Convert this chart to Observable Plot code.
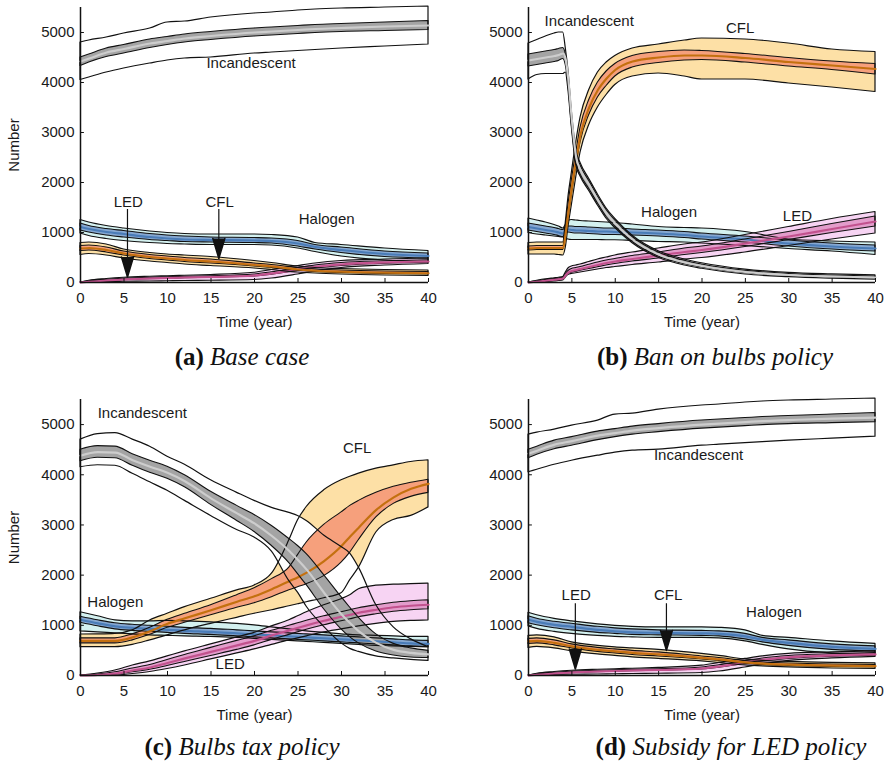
<!DOCTYPE html>
<html><head><meta charset="utf-8">
<script src="https://cdn.jsdelivr.net/npm/d3@7"></script>
<script src="https://cdn.jsdelivr.net/npm/@observablehq/plot@0.6"></script>
<style>
body{margin:0;background:#fff;}
#root{position:relative;width:889px;height:763px;overflow:hidden;background:#fff;}
.panel{position:absolute;}
.panel svg{overflow:visible;}
.cap{position:absolute;width:400px;font-family:"Liberation Serif","Times New Roman",serif;font-size:25px;line-height:25px;white-space:nowrap;color:#111;text-align:center;}
.cap b{font-weight:bold;} .cap i{font-style:italic;}
</style></head><body><div id="root"></div>
<script>
// ---------- ticks ----------
const X_TICKS = [0,5,10,15,20,25,30,35,40];
const Y_TICKS = [0,1000,2000,3000,4000,5000];

// ---------- Panel (a) Base case  (panel (d) is drawn from the same readings) ----------
const T_A = [0,1,3,5,8,10,12,15,20,22,25,27,30,35,40];
const A_inc_hi  = [4800,4840,4900,4980,5080,5200,5220,5300,5380,5400,5440,5460,5480,5500,5520];
const A_inc_ihi = [4500,4560,4680,4750,4860,4910,4960,5010,5080,5100,5130,5150,5170,5200,5230];
const A_inc_med = [4420,4480,4600,4670,4780,4830,4880,4930,5000,5020,5050,5070,5090,5120,5140];
const A_inc_ilo = [4330,4400,4510,4580,4690,4750,4800,4850,4920,4940,4970,4990,5010,5030,5050];
const A_inc_lo  = [4050,4100,4200,4280,4380,4440,4480,4500,4580,4600,4630,4650,4680,4720,4760];
const A_hal_hi  = [1250,1200,1130,1080,1020,990,970,960,960,950,900,790,750,680,630];
const A_hal_ihi = [1180,1130,1070,1030,970,940,920,900,890,880,830,750,700,620,580];
const A_hal_med = [1110,1070,1010,970,910,880,860,850,840,830,780,710,650,570,530];
const A_hal_ilo = [1040,1000,940,900,850,830,810,800,790,780,720,660,590,510,480];
const A_hal_lo  = [980,930,870,830,790,770,760,750,750,740,680,610,520,440,410];
const A_cfl_hi  = [790,800,760,660,590,560,540,510,430,390,320,290,270,250,240];
const A_cfl_ihi = [730,740,700,620,550,520,490,460,380,350,290,260,240,220,210];
const A_cfl_med = [680,690,650,580,510,480,450,420,350,320,260,235,215,195,185];
const A_cfl_ilo = [630,640,600,540,470,440,410,380,320,290,235,210,190,170,160];
const A_cfl_lo  = [550,570,540,480,420,390,360,330,280,250,200,180,160,140,130];
const A_led_hi  = [0,35,70,95,115,125,135,150,195,250,330,380,430,460,480];
const A_led_ihi = [0,25,55,75,95,105,115,125,160,205,290,340,390,425,445];
const A_led_med = [0,15,40,60,80,90,100,110,140,180,260,310,360,400,420];
const A_led_ilo = [0,8,25,45,65,75,85,95,120,155,230,280,330,375,395];
const A_led_lo  = [0,0,10,15,20,25,30,35,50,80,160,220,290,340,370];
const A_lab_text = ["Incandescent","Halogen","LED","CFL"];
const A_lab_x = [19.6,28.3,5.5,16.0];
const A_lab_y = [4390,1260,1610,1610];
const A_arr_x = [5.4,15.9];
const A_arr_from = [1470,1470];
const A_arr_to = [110,480];

// ---------- Panel (b) Ban on bulbs policy ----------
const T_B = [0,1,2,3,3.5,4,4.3,4.6,5,5.5,6,7,8,9,10,12,15,18,20,25,30,35,40];
const B_inc_hi  = [4780,4850,4920,4980,5000,5000,4680,4250,3420,2660,2390,2070,1760,1480,1270,935,625,460,385,258,192,162,142];
const B_inc_ihi = [4560,4590,4620,4650,4670,4690,4560,4150,3350,2600,2340,2030,1720,1450,1240,910,600,435,360,235,170,140,120];
const B_inc_med = [4440,4470,4500,4530,4550,4580,4450,4050,3250,2500,2250,1950,1650,1380,1180,860,560,400,330,210,150,120,100];
const B_inc_ilo = [4320,4350,4380,4410,4430,4470,4340,3950,3150,2400,2160,1870,1580,1310,1120,810,520,365,300,185,130,100,80];
const B_inc_lo  = [4060,4150,4170,4170,4170,4170,4200,3850,3100,2350,2120,1830,1540,1275,1090,785,495,340,275,160,108,78,58];
const B_hal_hi  = [1280,1240,1200,1150,1120,1080,1150,1230,1250,1240,1230,1220,1210,1200,1190,1160,1110,1090,1080,1010,860,820,800];
const B_hal_ihi = [1180,1150,1120,1090,1070,1050,1100,1120,1120,1110,1110,1100,1090,1080,1080,1060,1040,1010,980,920,840,780,740];
const B_hal_med = [1110,1080,1050,1020,1000,980,1040,1060,1050,1040,1040,1030,1020,1020,1010,1000,980,950,920,860,780,720,680];
const B_hal_ilo = [1040,1010,980,950,930,910,980,1000,990,980,980,970,960,950,950,940,920,890,860,800,720,660,620];
const B_hal_lo  = [990,960,940,920,910,900,880,860,850,850,850,850,850,845,845,830,810,800,780,730,670,620,550];
const B_cfl_hi  = [790,800,800,800,800,800,1200,1700,2200,2800,3300,3850,4200,4400,4530,4680,4760,4840,4880,4860,4780,4660,4610];
const B_cfl_ihi = [720,730,730,730,730,730,1100,1550,2050,2600,3100,3650,4000,4220,4370,4530,4610,4640,4630,4570,4490,4420,4370];
const B_cfl_med = [680,690,690,690,690,690,1000,1400,1900,2450,2950,3500,3850,4080,4250,4420,4500,4540,4540,4490,4410,4340,4270];
const B_cfl_ilo = [640,650,650,650,650,650,900,1250,1750,2300,2800,3350,3700,3930,4120,4300,4390,4440,4450,4400,4320,4250,4160];
const B_cfl_lo  = [560,560,560,560,550,540,700,1100,1550,2100,2600,3150,3500,3750,3950,4120,4180,4120,4060,4060,3980,3900,3810];
const B_led_hi  = [0,35,65,85,95,110,200,280,320,340,360,410,460,500,540,600,680,760,800,950,1110,1270,1410];
const B_led_ihi = [0,25,50,70,80,95,170,230,270,290,310,355,400,440,470,530,600,680,720,860,1010,1170,1320];
const B_led_med = [0,15,35,55,65,80,150,200,230,250,270,310,350,390,420,470,540,610,650,780,920,1070,1220];
const B_led_ilo = [0,8,25,40,50,60,130,175,195,215,235,270,305,340,370,420,480,550,590,710,850,990,1120];
const B_led_lo  = [0,0,10,20,30,40,100,150,170,185,200,230,260,290,310,350,400,460,490,600,730,860,980];
const B_lab_text = ["Incandescent","CFL","Halogen","LED"];
const B_lab_x = [7.0,24.4,16.2,31.0];
const B_lab_y = [5230,5090,1410,1320];

// ---------- Panel (c) Bulbs tax policy ----------
const T_C = [0,2,4,6,8,10,12,15,18,20,22,24,25,26,28,30,31,32,34,36,38,40];
const C_inc_hi  = [4700,4810,4830,4700,4560,4360,4200,3890,3640,3480,3340,3240,3180,3080,2790,2560,2430,2150,1400,960,720,565];
const C_inc_ihi = [4500,4570,4560,4410,4280,4160,3990,3660,3380,3200,2980,2720,2580,2420,2000,1560,1350,1150,820,630,540,490];
const C_inc_med = [4380,4450,4440,4290,4160,4040,3870,3530,3230,3030,2780,2480,2300,2110,1650,1220,1040,880,650,510,450,420];
const C_inc_ilo = [4270,4340,4330,4180,4040,3920,3750,3400,3080,2860,2580,2240,2020,1800,1320,920,760,640,480,400,360,350];
const C_inc_lo  = [4150,4190,4180,4020,3850,3680,3480,3180,2900,2750,2470,1880,1650,1370,970,640,530,470,380,340,310,290];
const C_hal_hi  = [1260,1180,1100,1080,1080,1090,1080,1060,1030,1000,960,920,900,880,850,820,810,800,790,780,770,770];
const C_hal_ihi = [1170,1100,1040,1010,990,970,950,930,900,880,860,840,830,820,800,780,770,760,740,720,700,690];
const C_hal_med = [1110,1040,980,950,930,910,890,870,840,820,800,780,770,760,740,720,710,700,680,660,640,630];
const C_hal_ilo = [1050,980,920,890,870,850,830,810,780,760,740,720,710,700,680,660,650,640,620,600,580,570];
const C_hal_lo  = [880,860,840,820,800,790,780,770,750,730,710,690,680,670,650,630,620,610,590,580,570,560];
const C_cfl_hi  = [817,820,830,900,1097,1230,1363,1529,1695,1795,2028,2693,3092,3358,3690,3890,3960,4023,4122,4189,4255,4289];
const C_cfl_ihi = [740,740,740,820,950,1110,1230,1400,1600,1740,1920,2150,2400,2650,3000,3250,3380,3480,3640,3760,3840,3900];
const C_cfl_med = [690,690,690,760,880,1030,1140,1300,1470,1580,1720,1880,1960,2050,2280,2580,2770,2950,3300,3550,3720,3820];
const C_cfl_ilo = [640,640,640,700,810,950,1050,1200,1350,1440,1560,1700,1760,1820,1980,2250,2450,2700,3150,3420,3560,3640];
const C_cfl_lo  = [565,565,565,610,700,800,900,1030,1150,1230,1300,1380,1420,1460,1540,1640,1900,2150,2850,3100,3180,3350];
const C_led_hi  = [0,40,100,200,280,380,480,620,760,850,980,1100,1180,1260,1400,1520,1600,1720,1790,1810,1820,1830];
const C_led_ihi = [0,20,65,140,210,310,410,550,690,780,890,990,1040,1090,1180,1260,1300,1340,1400,1450,1480,1500];
const C_led_med = [0,10,40,100,160,250,340,470,600,690,800,900,950,1000,1090,1170,1210,1250,1310,1360,1390,1410];
const C_led_ilo = [0,0,20,65,115,190,270,390,510,600,710,810,860,910,1000,1080,1120,1160,1220,1270,1300,1320];
const C_led_lo  = [0,0,0,30,70,130,200,320,440,520,610,700,740,780,860,920,950,980,1030,1070,1090,1100];
const C_lab_text = ["Incandescent","CFL","Halogen","LED"];
const C_lab_x = [7.1,31.8,4.0,17.2];
const C_lab_y = [5220,4520,1460,230];

// ---------- Panel (d) Subsidy for LED policy: labels / arrows ----------
const D_lab_text = ["Incandescent","Halogen","LED","CFL"];
const D_lab_x = [19.6,28.3,5.5,16.1];
const D_lab_y = [4390,1260,1610,1610];
const D_arr_x = [5.4,15.9];
const D_arr_from = [1440,1440];
const D_arr_to = [130,500];

const CAPTIONS = [["(a)","Base case"],["(b)","Ban on bulbs policy"],["(c)","Bulbs tax policy"],["(d)","Subsidy for LED policy"]];

// ---------- styles ----------
const OUTER_FILL = {CFL:"#fde0a6", Incandescent:"#ffffff", Halogen:"#d4f1f0", LED:"#f7d4f3"};
const INNER_FILL = {CFL:"#f6a07c", Incandescent:"#a4a4a4", Halogen:"#86a8d1", LED:"#e39ccb"};
const MED_COLOR  = {CFL:"#c4700f", Incandescent:"#cdcdcd", Halogen:"#4a7cb7", LED:"#c2528e"};
const TECHS = ["Halogen","LED","CFL","Incandescent"];
const OUTER_ORDER = ["CFL","Incandescent","Halogen","LED"];
const INNER_ORDER = ["CFL","Halogen","LED","Incandescent"];
const LINE_ORDER = ["Halogen","LED","CFL","Incandescent"];
const curve = "monotone-x";

function S(hi, ihi, med, ilo, lo){ return {hi, ihi, med, ilo, lo}; }
const SERIES_A = {Incandescent:S(A_inc_hi,A_inc_ihi,A_inc_med,A_inc_ilo,A_inc_lo), Halogen:S(A_hal_hi,A_hal_ihi,A_hal_med,A_hal_ilo,A_hal_lo), CFL:S(A_cfl_hi,A_cfl_ihi,A_cfl_med,A_cfl_ilo,A_cfl_lo), LED:S(A_led_hi,A_led_ihi,A_led_med,A_led_ilo,A_led_lo)};
const SERIES_B = {Incandescent:S(B_inc_hi,B_inc_ihi,B_inc_med,B_inc_ilo,B_inc_lo), Halogen:S(B_hal_hi,B_hal_ihi,B_hal_med,B_hal_ilo,B_hal_lo), CFL:S(B_cfl_hi,B_cfl_ihi,B_cfl_med,B_cfl_ilo,B_cfl_lo), LED:S(B_led_hi,B_led_ihi,B_led_med,B_led_ilo,B_led_lo)};
const SERIES_C = {Incandescent:S(C_inc_hi,C_inc_ihi,C_inc_med,C_inc_ilo,C_inc_lo), Halogen:S(C_hal_hi,C_hal_ihi,C_hal_med,C_hal_ilo,C_hal_lo), CFL:S(C_cfl_hi,C_cfl_ihi,C_cfl_med,C_cfl_ilo,C_cfl_lo), LED:S(C_led_hi,C_led_ihi,C_led_med,C_led_ilo,C_led_lo)};

function rowsFor(T, s){ return T.map((t,i)=>({t, lo:s.lo[i], ilo:s.ilo[i], med:s.med[i], ihi:s.ihi[i], hi:s.hi[i]})); }

function makePanel(cfg){
  const rows = {};
  for (const k of TECHS) rows[k] = rowsFor(cfg.T, cfg.series[k]);
  const labels = cfg.labText.map((text,i)=>({text, x:cfg.labX[i], y:cfg.labY[i]}));
  const arrows = cfg.arrX ? cfg.arrX.map((x,i)=>({x, from:cfg.arrFrom[i], to:cfg.arrTo[i]})) : [];
  const marks = [];
  for (const k of OUTER_ORDER) marks.push(Plot.areaY(rows[k], {x:"t", y1:"lo", y2:"hi", fill:OUTER_FILL[k], curve}));
  for (const k of INNER_ORDER) marks.push(Plot.areaY(rows[k], {x:"t", y1:"ilo", y2:"ihi", fill:INNER_FILL[k], curve}));
  for (const k of LINE_ORDER){
    marks.push(Plot.areaY(rows[k], {x:"t", y1:"lo", y2:"hi", fill:"none", stroke:"#111", strokeWidth:1.2, curve}));
    marks.push(Plot.areaY(rows[k], {x:"t", y1:"ilo", y2:"ihi", fill:"none", stroke:"#111", strokeWidth:1.1, curve}));
    marks.push(Plot.line(rows[k], {x:"t", y:"med", stroke:MED_COLOR[k], strokeWidth:2.2, curve}));
  }
  marks.push(Plot.ruleX(X_TICKS, {y1:0, y2:80, stroke:"#111", strokeWidth:1}));
  marks.push(Plot.ruleY(Y_TICKS, {x1:0, x2:0.45, stroke:"#111", strokeWidth:1}));
  marks.push(Plot.ruleX([0], {stroke:"#111", strokeWidth:1.5}));
  marks.push(Plot.ruleY([0], {stroke:"#111", strokeWidth:1.5}));
  marks.push(Plot.text(labels, {x:"x", y:"y", text:"text", fill:"#1a1a1a", fontSize:15}));
  if (arrows.length){
    marks.push(Plot.link(arrows, {x1:"x", x2:"x", y1:"from", y2:"to", stroke:"#111", strokeWidth:1.2}));
    marks.push(Plot.vector(arrows, {x:"x", y:"to", length:20, rotate:180, anchor:"end", shape:"spike", r:6, fill:"#111", stroke:"#111"}));
  }
  const svg = Plot.plot({
    width: cfg.width, height: 335,
    marginTop: 7, marginBottom: cfg.marginBottom, marginLeft: cfg.marginLeft, marginRight: cfg.marginRight,
    style: {fontFamily: '"Liberation Sans", Arial, sans-serif', fontSize: "15px", color: "#1a1a1a", background: "transparent", overflow: "visible"},
    x: {domain:[0,40], ticks:X_TICKS, tickFormat:"d", tickSize:0, tickPadding:10, label:"Time (year)", labelAnchor:"center", labelArrow:"none", labelOffset:44},
    y: {domain:[0,5500], ticks:Y_TICKS, tickFormat:"d", tickSize:0, tickPadding:6, label: cfg.yLabel ? "Number" : null, labelAnchor:"center", labelArrow:"none", labelOffset:72},
    marks
  });
  const div = document.createElement("div");
  div.className = "panel";
  div.style.left = cfg.left + "px";
  div.style.top = cfg.top + "px";
  div.appendChild(svg);
  document.getElementById("root").appendChild(div);
}

makePanel({T:T_A, series:SERIES_A, labText:A_lab_text, labX:A_lab_x, labY:A_lab_y, arrX:A_arr_x, arrFrom:A_arr_from, arrTo:A_arr_to,
  left:0, top:0, width:445, marginLeft:80, marginRight:17, marginBottom:53, yLabel:true});
makePanel({T:T_B, series:SERIES_B, labText:B_lab_text, labX:B_lab_x, labY:B_lab_y,
  left:445, top:0, width:444, marginLeft:83, marginRight:14, marginBottom:53, yLabel:false});
makePanel({T:T_C, series:SERIES_C, labText:C_lab_text, labX:C_lab_x, labY:C_lab_y,
  left:0, top:392, width:445, marginLeft:80, marginRight:17, marginBottom:52, yLabel:true});
makePanel({T:T_A, series:SERIES_A, labText:D_lab_text, labX:D_lab_x, labY:D_lab_y, arrX:D_arr_x, arrFrom:D_arr_from, arrTo:D_arr_to,
  left:445, top:392, width:444, marginLeft:83, marginRight:14, marginBottom:52, yLabel:false});

// captions
const capPos = [[242,344],[715,344],[242,734],[731,734]];
CAPTIONS.forEach(([tag, txt], i)=>{
  const d = document.createElement("div");
  d.className = "cap";
  d.style.left = (capPos[i][0]-200) + "px";
  d.style.top = capPos[i][1] + "px";
  const b = document.createElement("b"); b.textContent = tag;
  const it = document.createElement("i"); it.textContent = " " + txt;
  d.appendChild(b); d.appendChild(it);
  document.getElementById("root").appendChild(d);
});
</script></body></html>
